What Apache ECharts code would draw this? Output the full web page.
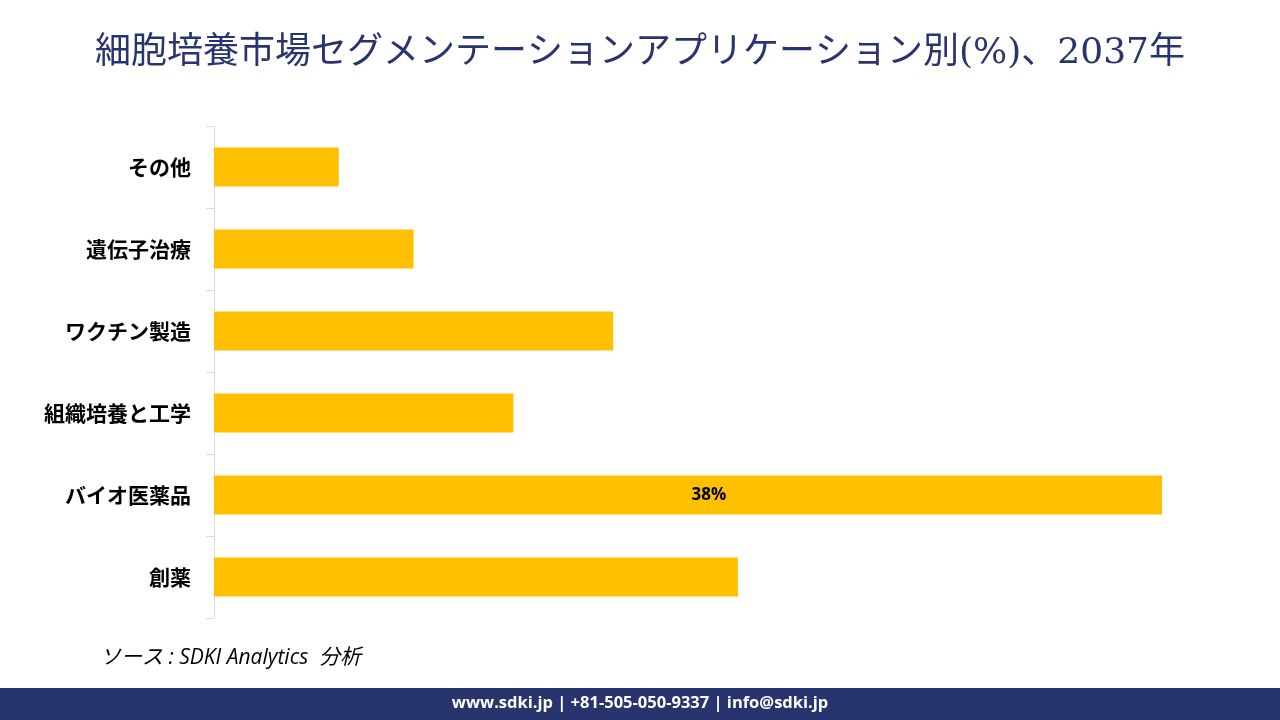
<!DOCTYPE html>
<html><head><meta charset="utf-8">
<script src="https://cdn.jsdelivr.net/npm/echarts@6/dist/echarts.min.js"></script>
<style>html,body{margin:0;padding:0;background:#fff;}#c{width:1280px;height:720px;}</style>
</head><body><div id="c"></div>
<script>
const categories = ['その他','遺伝子治療','ワクチン製造','組織培養と工学','バイオ医薬品','創薬'];
const values = [5, 8, 16, 12, 38, 21];
const labeledCategory = 'バイオ医薬品';
const titleText = '細胞培養市場セグメンテーションアプリケーション別(%)、2037年';
const sourceText = 'ソース : SDKI Analytics  分析';
const footerText = 'www.sdki.jp | +81-505-050-9337 | info@sdki.jp';

const chart = echarts.init(document.getElementById('c'));
chart.setOption({
  backgroundColor: '#fff',
  animation: false,
  title: {
    text: titleText, left: 'center', top: 31,
    textStyle: {fontFamily: '"DejaVu Serif","Noto Sans CJK JP",serif', fontSize: 36, fontWeight: 'normal', color: '#27346e'}
  },
  grid: {left: 214, right: 118, top: 126, bottom: 102, containLabel: false},
  xAxis: {type: 'value', min: 0, max: 38, show: false},
  yAxis: {
    type: 'category', data: categories, inverse: true,
    axisLine: {show: true, lineStyle: {color: '#d9d9d9', width: 1}},
    axisTick: {show: true, length: 8, lineStyle: {color: '#d9d9d9'}},
    axisLabel: {margin: 23, fontFamily: '"Noto Sans CJK JP",sans-serif', fontSize: 21, fontWeight: 'bold', color: '#000'}
  },
  series: [{
    type: 'bar', barWidth: 39,
    itemStyle: {color: '#ffc000'},
    data: values.map((v, i) => ({
      value: v,
      label: categories[i] === labeledCategory ? {show: true, position: 'inside', offset: [21, 0], formatter: '{c}%', fontFamily: '"Open Sans","Noto Sans",sans-serif', fontWeight: 'bold', fontSize: 17, color: '#000'} : {show: false}
    }))
  }],
  graphic: [
    {type: 'text', left: 100, top: 648, style: {text: sourceText, font: 'italic 21px "Open Sans","Noto Sans CJK JP",sans-serif', fill: '#000'}},
    {type: 'rect', left: 0, top: 688, shape: {width: 1280, height: 32}, style: {fill: '#27346e'}},
    {type: 'text', left: 'center', top: 695, style: {text: footerText, font: 'bold 16.5px "Open Sans","Noto Sans",sans-serif', fill: '#fff'}}
  ]
});
</script></body></html>
